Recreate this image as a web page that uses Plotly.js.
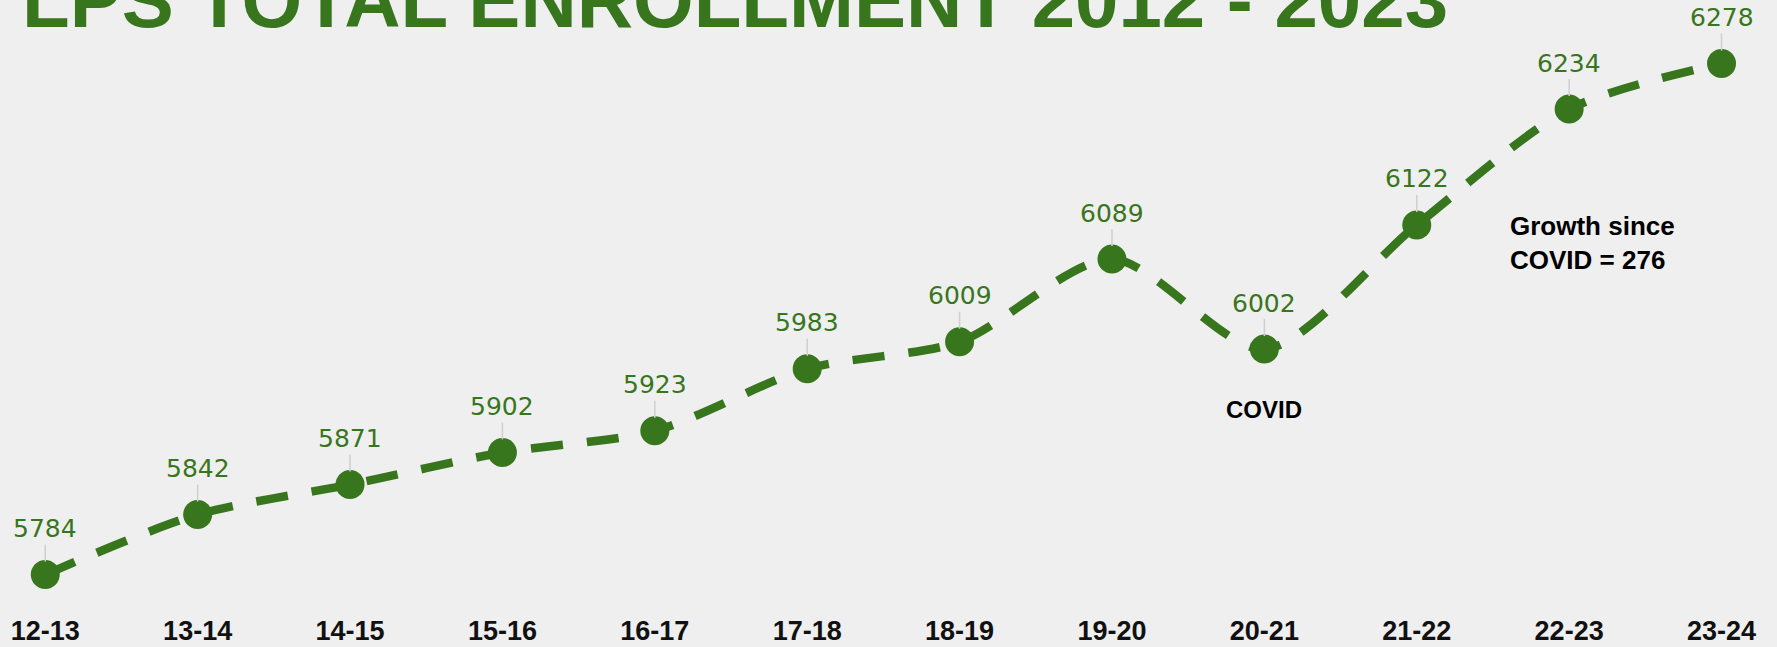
<!DOCTYPE html>
<html>
<head>
<meta charset="utf-8">
<script src="https://cdn.plot.ly/plotly-3.0.1.min.js"></script>
<style>
  html, body { margin: 0; padding: 0; background: #efefef; }
  #chart { width: 1777px; height: 647px; }
</style>
</head>
<body>
<div id="chart"></div>
<script>
const years = ["12-13","13-14","14-15","15-16","16-17","17-18","18-19","19-20","20-21","21-22","22-23","23-24"];
const enrollment = [5784, 5842, 5871, 5902, 5923, 5983, 6009, 6089, 6002, 6122, 6234, 6278];
const chartTitle = "LPS TOTAL ENROLLMENT 2012 - 2023";
const covidLabel = "COVID";
const covidIndex = 8;
const growthNote = "Growth since<br>COVID = 276";

const green = "#38761d";

const trace = {
  x: years,
  y: enrollment,
  type: "scatter",
  mode: "lines+markers",
  line: { color: green, width: 8.5, dash: "32px,24px", shape: "spline", smoothing: 0.8 },
  marker: { color: green, size: 29 },
  hoverinfo: "x+y",
  cliponaxis: false
};

const valueLabels = years.map((c, i) => ({
  x: c, y: enrollment[i], xref: "x", yref: "y",
  text: String(enrollment[i]),
  showarrow: true, arrowhead: 0, arrowwidth: 1.5, arrowcolor: "#cfcfcf",
  ax: 0, ay: -46, standoff: 13,
  font: { family: "DejaVu Sans", size: 25, color: green }
}));

const notes = [
  {
    x: years[covidIndex], y: enrollment[covidIndex], xref: "x", yref: "y",
    text: covidLabel, showarrow: false, yshift: -60,
    font: { family: "Liberation Sans, Arial", size: 24, color: "#000", weight: "bold" }
  },
  {
    x: 1508 / 1777, xref: "paper", y: (605 - 243) / 605, yref: "paper",
    xanchor: "left", yanchor: "middle", align: "left",
    text: growthNote, showarrow: false,
    font: { family: "Liberation Sans, Arial", size: 26, color: "#000", weight: "bold" }
  }
];

const layout = {
  width: 1777, height: 647,
  paper_bgcolor: "#efefef", plot_bgcolor: "#efefef",
  margin: { l: 0, r: 0, t: 0, b: 42 },
  showlegend: false,
  title: {
    text: chartTitle, xref: "container", yref: "container",
    x: 22 / 1777, xanchor: "left", y: 1.0, yanchor: "middle",
    font: { family: "Liberation Sans, Arial", size: 78, color: green, weight: "bold" }
  },
  xaxis: {
    type: "category", categoryorder: "array", categoryarray: years,
    range: [-0.297, 11.364],
    showgrid: false, zeroline: false, showline: false, ticks: "",
    ticklabelstandoff: 7,
    tickfont: { family: "Liberation Sans, Arial", size: 27, color: "#111", weight: "bold" },
    fixedrange: true
  },
  yaxis: {
    range: [5754.6, 6339.4],
    showgrid: false, zeroline: false, showline: false, showticklabels: false, ticks: "",
    fixedrange: true
  },
  annotations: valueLabels.concat(notes)
};

Plotly.newPlot("chart", [trace], layout, { displayModeBar: false, staticPlot: true });
</script>
</body>
</html>
